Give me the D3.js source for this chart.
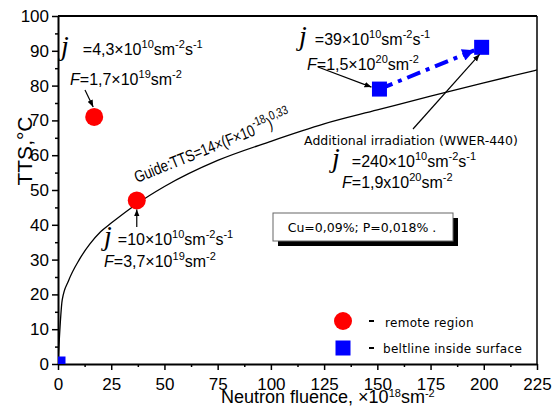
<!DOCTYPE html>
<html>
<head>
<meta charset="utf-8">
<script src="https://cdn.jsdelivr.net/npm/d3@7"></script>
<style>
  body { margin: 0; background: #fff; }
  text { font-family: "Liberation Sans", Arial, sans-serif; fill: #000; }
</style>
</head>
<body>
<div id="container"></div>
<script>
/* CONSTANTS AND GLOBALS */
const width = 552;
const height = 407;
const margin = { top: 16, right: 15, bottom: 43, left: 58 };

/* DATA */
// remote region (red circles)
const remoteF = [17, 37];
const remoteTTS = [71, 47];
// beltline inside surface (blue squares)
const beltF = [0, 151, 199];
const beltTTS = [0, 79, 91];
// guide curve
const guideF = [0, 2, 5, 10, 15, 20, 25, 37, 50, 75, 100, 125, 150, 175, 200, 225];
const guideTTS = [0, 18.5, 24, 30, 34.5, 38, 40.5, 46, 51, 58.5, 64, 69, 73, 77, 80.8, 84.5];
// ticks
const xTicks = [0, 25, 50, 75, 100, 125, 150, 175, 200, 225];
const xMinor = [12.5, 37.5, 62.5, 87.5, 112.5, 137.5, 162.5, 187.5, 212.5];
const yTicks = [0, 10, 20, 30, 40, 50, 60, 70, 80, 90, 100];
const yMinor = [5, 15, 25, 35, 45, 55, 65, 75, 85, 95];

/* SCALES */
const xScale = d3.scaleLinear()
  .domain([0, 225])
  .range([margin.left, width - margin.right]);

const yScale = d3.scaleLinear()
  .domain([0, 100])
  .range([height - margin.bottom, margin.top]);

/* SVG */
const svg = d3.select("#container")
  .append("svg")
  .attr("width", width)
  .attr("height", height);

const defs = svg.append("defs");
defs.append("clipPath").attr("id", "plot")
  .append("rect")
  .attr("x", margin.left).attr("y", margin.top)
  .attr("width", width - margin.left - margin.right)
  .attr("height", height - margin.top - margin.bottom);

defs.append("marker").attr("id", "arrBlack")
  .attr("viewBox", "0 0 10 10").attr("refX", 10).attr("refY", 5)
  .attr("markerWidth", 7).attr("markerHeight", 7).attr("markerUnits", "userSpaceOnUse")
  .attr("orient", "auto")
  .append("path").attr("d", "M0,1 L10,5 L0,9 Z").attr("fill", "#000");

defs.append("marker").attr("id", "arrBlue")
  .attr("viewBox", "0 0 10 10").attr("refX", 10).attr("refY", 5)
  .attr("markerWidth", 14).attr("markerHeight", 12).attr("markerUnits", "userSpaceOnUse")
  .attr("orient", "auto")
  .append("path").attr("d", "M0,0 L10,5 L0,10 Z").attr("fill", "#0000ff");

/* AXES */
svg.append("g")
  .attr("transform", `translate(0, ${height - margin.bottom})`)
  .call(d3.axisBottom(xScale).tickValues(xMinor).tickSize(3).tickFormat(""))
  .call(g => g.select(".domain").remove())
  .selectAll("line").attr("stroke-width", 1.5);

svg.append("g")
  .attr("transform", `translate(${margin.left}, 0)`)
  .call(d3.axisLeft(yScale).tickValues(yMinor).tickSize(3).tickFormat(""))
  .call(g => g.select(".domain").remove())
  .selectAll("line").attr("stroke-width", 1.5);

const xAxis = svg.append("g")
  .attr("transform", `translate(0, ${height - margin.bottom})`)
  .call(d3.axisBottom(xScale).tickValues(xTicks).tickSize(6).tickSizeOuter(0).tickPadding(8));
xAxis.selectAll("text").style("font-size", "17px").attr("font-family", null);
xAxis.selectAll("line").attr("stroke-width", 1.5);
xAxis.select(".domain").attr("stroke-width", 2);

const yAxis = svg.append("g")
  .attr("transform", `translate(${margin.left}, 0)`)
  .call(d3.axisLeft(yScale).tickValues(yTicks).tickSize(6).tickSizeOuter(0).tickPadding(3));
yAxis.selectAll("text").style("font-size", "17px").attr("font-family", null);
yAxis.selectAll("line").attr("stroke-width", 1.5);
yAxis.select(".domain").attr("stroke-width", 2);

// frame top + right
svg.append("line")
  .attr("x1", margin.left).attr("x2", width - margin.right)
  .attr("y1", margin.top).attr("y2", margin.top)
  .attr("stroke", "#000").attr("stroke-width", 2);
svg.append("line")
  .attr("x1", width - margin.right).attr("x2", width - margin.right)
  .attr("y1", margin.top).attr("y2", height - margin.bottom)
  .attr("stroke", "#000").attr("stroke-width", 1.5);

// helper for text with superscripts / italics
// parts: [text, kind, dx]
function rich(x, y, parts, size, opts = {}) {
  const t = svg.append("text").attr("x", x).attr("y", y).style("font-size", size + "px");
  if (opts.family) t.style("font-family", opts.family);
  if (opts.anchor) t.attr("text-anchor", opts.anchor);
  if (opts.transform) t.attr("transform", opts.transform);
  const up = opts.sup || 7;
  let raise = 0;
  parts.forEach(p => {
    const kind = p[1];
    const ts = t.append("tspan").text(p[0]);
    if (p[2]) ts.attr("dx", p[2]);
    if (kind === "sup") {
      ts.attr("dy", raise === 0 ? -up : 0).style("font-size", (opts.supSize || 11) + "px");
      raise = up;
    } else {
      if (raise) ts.attr("dy", raise);
      raise = 0;
      if (kind === "j") ts.style("font-family", "'Liberation Serif', serif").style("font-style", "italic").style("font-size", "28px");
      if (kind === "it") ts.style("font-style", "italic");
    }
  });
  return t;
}

/* GUIDE CURVE */
const guide = guideF.map((f, i) => [f, guideTTS[i]]);
svg.append("path")
  .datum(guide)
  .attr("clip-path", "url(#plot)")
  .attr("fill", "none")
  .attr("stroke", "#000")
  .attr("stroke-width", 1.3)
  .attr("d", d3.line().x(d => xScale(d[0])).y(d => yScale(d[1])).curve(d3.curveMonotoneX));

rich(0, 0, [["Guide:TTS=14×(F×10"], ["-18", "sup"], [")"], ["0,33", "sup"]], 16.5,
  { transform: "translate(137, 183) rotate(-22) scale(0.8, 1)", supSize: 12.5, sup: 8 });

/* BLUE DASH-DOT LINE (additional irradiation) */
const p1 = [xScale(beltF[1]), yScale(beltTTS[1])];
const p2 = [xScale(beltF[2]), yScale(beltTTS[2])];
const len = Math.hypot(p2[0] - p1[0], p2[1] - p1[1]);
const ux = (p2[0] - p1[0]) / len, uy = (p2[1] - p1[1]) / len;
svg.append("line")
  .attr("x1", p1[0]).attr("y1", p1[1])
  .attr("x2", p2[0] - ux * 8).attr("y2", p2[1] - uy * 8)
  .attr("stroke", "#0000ff").attr("stroke-width", 4)
  .attr("stroke-dasharray", "14,6,4,6")
  .attr("marker-end", "url(#arrBlue)");

/* MARKS */
const marks = svg.append("g").attr("clip-path", "url(#plot)");
marks.selectAll("circle")
  .data(remoteF)
  .join("circle")
  .attr("cx", d => xScale(d))
  .attr("cy", (d, i) => yScale(remoteTTS[i]))
  .attr("r", 9)
  .attr("fill", "#ff0000");

marks.selectAll("rect")
  .data(beltF)
  .join("rect")
  .attr("x", d => xScale(d) - 7.5)
  .attr("y", (d, i) => yScale(beltTTS[i]) - 7.5)
  .attr("width", 15)
  .attr("height", 15)
  .attr("fill", "#0000ff");

/* ANNOTATIONS */
function arrow(x1, y1, x2, y2) {
  svg.append("line")
    .attr("x1", x1).attr("y1", y1).attr("x2", x2).attr("y2", y2)
    .attr("stroke", "#000").attr("stroke-width", 1.2)
    .attr("marker-end", "url(#arrBlack)");
}

// top left
rich(61, 55, [["j", "j"], ["=4,3×10", null, 14], ["10", "sup"], ["sm"], ["-2", "sup"], ["s"], ["-1", "sup"]], 16);
rich(70, 85, [["F", "it"], ["=1,7×10"], ["19", "sup"], ["sm"], ["-2", "sup"]], 16);
arrow(85, 90, xScale(remoteF[0]) - 1, yScale(remoteTTS[0]) - 10);

// lower red point
rich(104, 245, [["j", "j"], ["=10×10", null, 6], ["10", "sup"], ["sm"], ["-2", "sup"], ["s"], ["-1", "sup"]], 16);
rich(104, 267, [["F", "it"], ["=3,7×10"], ["19", "sup"], ["sm"], ["-2", "sup"]], 16);
arrow(xScale(remoteF[1]), 227, xScale(remoteF[1]), yScale(remoteTTS[1]) + 9);

// upper blue point
rich(299, 45, [["j", "j"], ["=39×10", null, 8], ["10", "sup"], ["sm"], ["-2", "sup"], ["s"], ["-1", "sup"]], 16);
rich(307, 70, [["F", "it"], ["=1,5×10"], ["20", "sup"], ["sm"], ["-2", "sup"]], 16);
arrow(318, 67, xScale(beltF[1]) - 8, yScale(beltTTS[1]) - 2);

// additional irradiation
arrow(413, 129, xScale(beltF[2]) - 2, yScale(beltTTS[2]) + 7);
svg.append("text")
  .attr("x", 411).attr("y", 145)
  .attr("text-anchor", "middle")
  .style("font-family", "'DejaVu Sans', sans-serif")
  .style("font-size", "12.5px")
  .text("Additional irradiation (WWER-440)");
rich(332, 167, [["j", "j"], ["=240×10", null, 12], ["10", "sup"], ["sm"], ["-2", "sup"], ["s"], ["-1", "sup"]], 16);
rich(342, 188, [["F", "it"], ["=1,9x10"], ["20", "sup"], ["sm"], ["-2", "sup"]], 16);

// composition box
svg.append("rect").attr("x", 278).attr("y", 218).attr("width", 180).attr("height", 28).attr("fill", "#000");
svg.append("rect").attr("x", 273).attr("y", 213).attr("width", 180).attr("height", 28)
  .attr("fill", "#fff").attr("stroke", "#666").attr("stroke-width", 1);
svg.append("text")
  .attr("x", 362).attr("y", 232)
  .attr("text-anchor", "middle")
  .style("font-family", "'DejaVu Sans', sans-serif")
  .style("font-size", "12.5px")
  .text("Cu=0,09%; P=0,018% .");

/* LEGEND */
const legend = svg.append("g").attr("transform", "translate(343, 321)");
legend.append("circle").attr("cx", 0).attr("cy", 0).attr("r", 9).attr("fill", "#ff0000");
legend.append("rect").attr("x", -7.5).attr("y", 19.5).attr("width", 15).attr("height", 15).attr("fill", "#0000ff");
legend.append("line").attr("x1", 26).attr("x2", 31).attr("y1", 0).attr("y2", 0).attr("stroke", "#000").attr("stroke-width", 2);
legend.append("line").attr("x1", 26).attr("x2", 31).attr("y1", 27).attr("y2", 27).attr("stroke", "#000").attr("stroke-width", 2);
legend.append("text").attr("x", 42).attr("y", 6).style("font-family", "'DejaVu Sans', sans-serif")
  .style("font-size", "12px").style("letter-spacing", "0.3px").text("remote region");
legend.append("text").attr("x", 40).attr("y", 32).style("font-family", "'DejaVu Sans', sans-serif")
  .style("font-size", "12px").style("letter-spacing", "0.3px").text("beltline inside surface");

/* AXIS TITLES */
svg.append("text")
  .attr("transform", "translate(32, 151) rotate(-90)")
  .attr("text-anchor", "middle")
  .style("font-size", "21px")
  .text("TTS,°C");

rich(221, 403, [["Neutron fluence, ×10"], ["18", "sup"], ["sm"], ["-2", "sup"]], 18, { sup: 6 });
</script>
</body>
</html>
